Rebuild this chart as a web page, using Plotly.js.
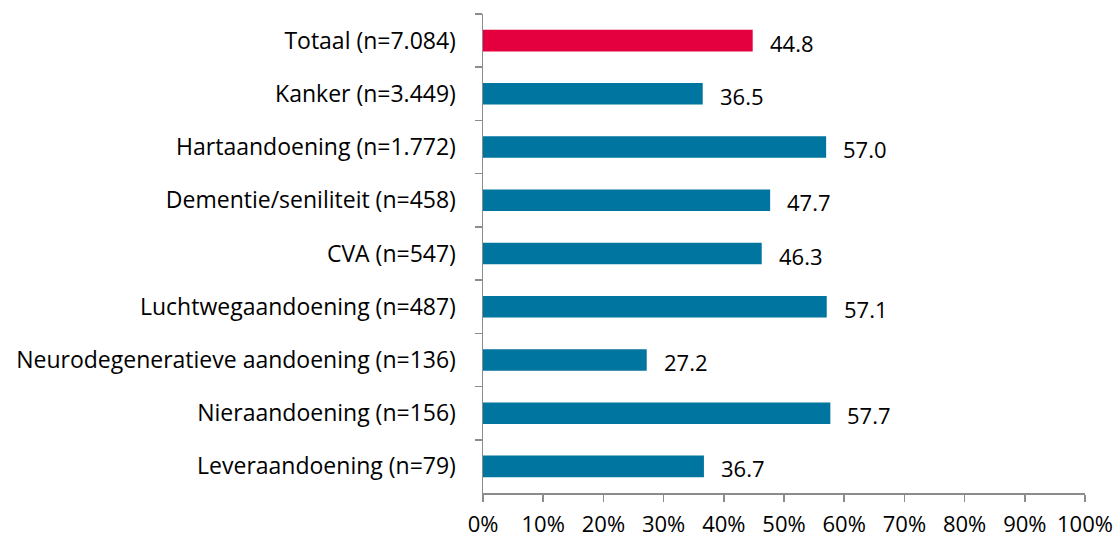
<!DOCTYPE html>
<html>
<head>
<meta charset="utf-8">
<script src="https://cdn.plot.ly/plotly-3.0.1.min.js"></script>
<style>html,body{margin:0;padding:0;background:#fff;}#chart{width:1119px;height:539px;}</style>
</head>
<body>
<div id="chart"></div>
<script>
const categories = [
  "Totaal (n=7.084)",
  "Kanker (n=3.449)",
  "Hartaandoening (n=1.772)",
  "Dementie/seniliteit (n=458)",
  "CVA (n=547)",
  "Luchtwegaandoening (n=487)",
  "Neurodegeneratieve aandoening (n=136)",
  "Nieraandoening (n=156)",
  "Leveraandoening (n=79)"
];
const values = [44.8, 36.5, 57.0, 47.7, 46.3, 57.1, 27.2, 57.7, 36.7];
const xTicks = [0, 10, 20, 30, 40, 50, 60, 70, 80, 90, 100];

const FONT = "'Open Sans', 'Noto Sans', sans-serif";
const colors = categories.map((c, i) => i === 0 ? "#E4003F" : "#00759F");

const trace = {
  type: "bar",
  orientation: "h",
  y: categories,
  x: values,
  marker: {color: colors},
  hoverinfo: "none"
};

const annotations = categories.map((c, i) => ({
  x: values[i],
  y: c,
  xref: "x",
  yref: "y",
  text: values[i].toFixed(1),
  showarrow: false,
  xanchor: "left",
  yanchor: "middle",
  xshift: 15,
  yshift: -2,
  font: {family: FONT, size: 22, color: "#000"}
}));

const layout = {
  width: 1119,
  height: 539,
  margin: {l: 483, r: 34, t: 14, b: 46},
  paper_bgcolor: "#fff",
  plot_bgcolor: "#fff",
  bargap: 0.595,
  showlegend: false,
  font: {family: FONT, size: 22, color: "#000"},
  annotations: annotations,
  xaxis: {
    range: [0, 100],
    tickvals: xTicks,
    ticktext: xTicks.map(t => t + "%"),
    showgrid: false,
    zeroline: false,
    showline: true,
    linecolor: "#8c8c8c",
    linewidth: 1.5,
    ticks: "outside",
    ticklen: 7,
    tickcolor: "#8c8c8c",
    tickwidth: 1.5,
    ticklabelstandoff: 4,
    tickfont: {size: 22},
    fixedrange: true
  },
  yaxis: {
    autorange: "reversed",
    type: "category",
    showgrid: false,
    zeroline: false,
    showline: true,
    linecolor: "#8c8c8c",
    linewidth: 1.5,
    ticks: "outside",
    tickson: "boundaries",
    ticklen: 7,
    tickcolor: "#8c8c8c",
    tickwidth: 1.5,
    ticklabelstandoff: 21,
    tickfont: {size: 23},
    fixedrange: true
  }
};

Plotly.newPlot("chart", [trace], layout, {staticPlot: true, displayModeBar: false});
</script>
</body>
</html>
